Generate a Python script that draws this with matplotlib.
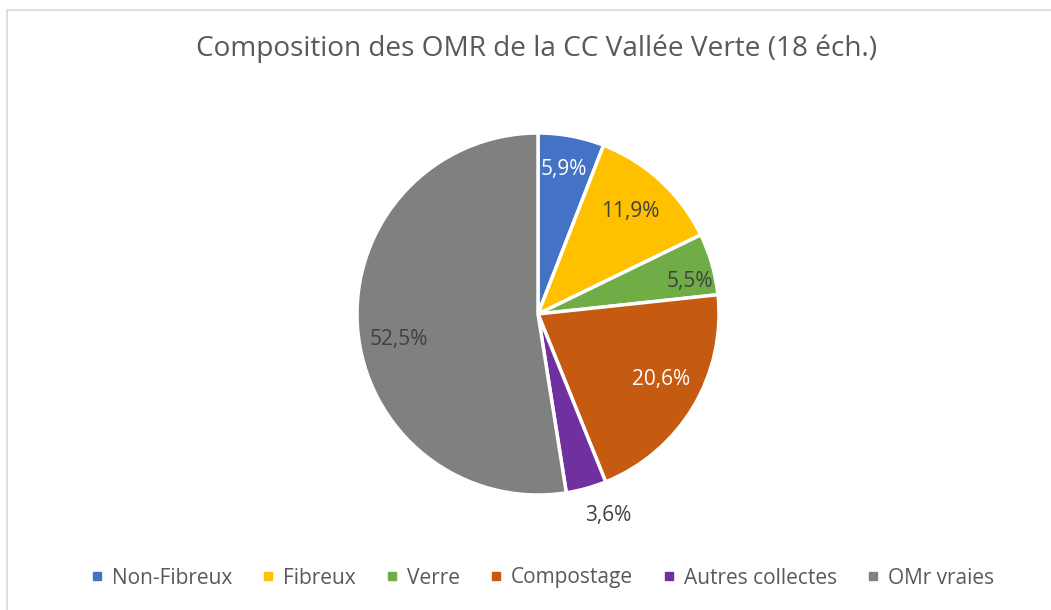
import numpy as np
import matplotlib
matplotlib.use('Agg')
import matplotlib.pyplot as plt
from matplotlib.patches import Rectangle
from matplotlib.lines import Line2D

plt.rcParams['font.family'] = ['Open Sans', 'DejaVu Sans']

labels = ['Non-Fibreux', 'Fibreux', 'Verre', 'Compostage', 'Autres collectes', 'OMr vraies']
values = [5.9, 11.9, 5.5, 20.6, 3.6, 52.5]
colors = ['#4472C4', '#FFC000', '#70AD47', '#C55A11', '#7030A0', '#808080']
txt_colors = ['white', '#404040', '#404040', 'white', '#404040', '#404040']
lab_dist = [0.81, 0.76, 0.86, 0.77, 1.18, 0.78]
lab_shift = [0.6, 0.7, -4.0, 3.0, 3.7, 6.0]

fig = plt.figure(figsize=(10.51, 6.10), dpi=100)
fig.patches.append(Rectangle((7 / 1051, -0.1), 1.2, 1 - 10 / 610 + 0.1,
                             transform=fig.transFigure, fill=False,
                             edgecolor='#D9D9D9', linewidth=1.2))

ax = fig.add_axes([0, 0, 1, 1])
cx, cy, r = 538, 610 - 314, 181
ax.set_xlim(0, 1051)
ax.set_ylim(0, 610)
ax.set_aspect('equal')
ax.axis('off')

wedges, _ = ax.pie(values, colors=colors, startangle=90, counterclock=False,
                   center=(cx, cy), radius=r,
                   wedgeprops=dict(edgecolor='white', linewidth=2.5))
ax.set_xlim(0, 1051)
ax.set_ylim(0, 610)

for w, v, c, d, s in zip(wedges, values, txt_colors, lab_dist, lab_shift):
    ang = np.deg2rad((w.theta1 + w.theta2) / 2 + s)
    x = cx + d * r * np.cos(ang)
    y = cy + d * r * np.sin(ang)
    ax.text(x, y, ('%.1f%%' % v).replace('.', ','), color=c, fontsize=15,
            ha='center', va='center')

fig.text(537 / 1051, 1 - 49 / 610, 'Composition des OMR de la CC Vallée Verte (18 éch.)',
         ha='center', va='center', fontsize=20.2, color='#595959')

handles = [Line2D([], [], marker='s', linestyle='', markersize=6.2,
                  markerfacecolor=c, markeredgecolor=c) for c in colors]
leg = fig.legend(handles, labels, loc='center', bbox_to_anchor=(543 / 1051, 1 - 578 / 610),
                 ncol=6, frameon=False, fontsize=15, handlelength=0.5,
                 handletextpad=0.45, columnspacing=1.5, labelcolor='#595959')

fig.savefig('out.png', dpi=100)
